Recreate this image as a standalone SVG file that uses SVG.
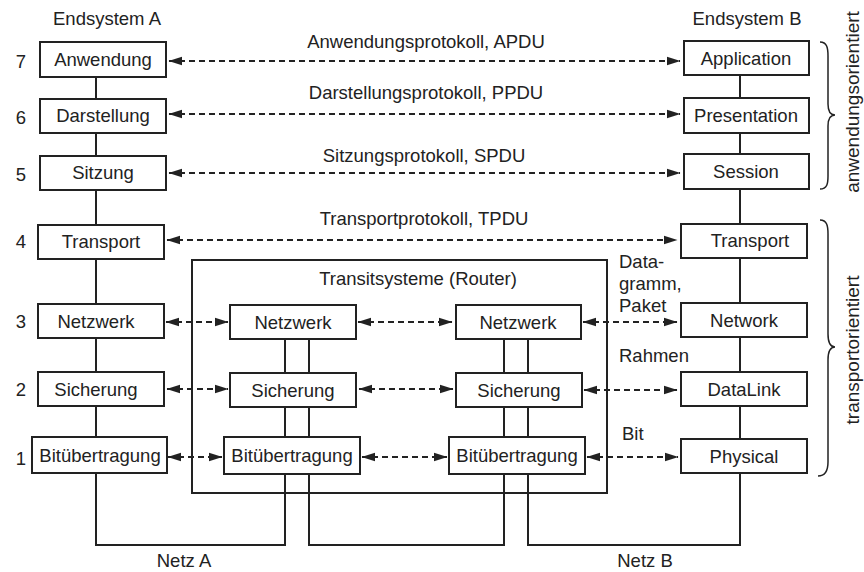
<svg xmlns="http://www.w3.org/2000/svg" width="864" height="572" viewBox="0 0 864 572">
<defs>
<marker id="ah" markerUnits="userSpaceOnUse" markerWidth="14" markerHeight="10" refX="13" refY="5" orient="auto-start-reverse" viewBox="0 0 14 10">
<path d="M0,0.8 L13.5,5 L0,9.2 Z" fill="#222"/>
</marker>
<style>
text{font-family:"Liberation Sans",Arial,sans-serif;font-size:18.5px;fill:#222}
.c{text-anchor:middle}
.v{font-size:19px}
.box{fill:#fff;stroke:#222;stroke-width:2}
.ln{fill:none;stroke:#222;stroke-width:2}
.da{fill:none;stroke:#222;stroke-width:2;stroke-dasharray:6 4;marker-start:url(#ah);marker-end:url(#ah)}
.br{fill:none;stroke:#222;stroke-width:1.5}
</style>
</defs>
<rect width="864" height="572" fill="#fff"/>

<g id="lines">
<line class="ln" x1="96" y1="77" x2="96" y2="437"/>
<line class="ln" x1="740" y1="75" x2="740" y2="439"/>
<polyline class="ln" points="96,473 96,545 285,545 285,474"/>
<polyline class="ln" points="309,474 309,545 504,545 504,474"/>
<polyline class="ln" points="528,474 528,545 740,545 740,473"/>
<line class="ln" x1="285" y1="339" x2="285" y2="437"/>
<line class="ln" x1="309" y1="339" x2="309" y2="437"/>
<line class="ln" x1="504" y1="339" x2="504" y2="437"/>
<line class="ln" x1="528" y1="339" x2="528" y2="437"/>
</g>

<g id="router-system">
<rect x="192" y="260" width="415" height="233" fill="none" stroke="#222" stroke-width="2"/>
<text class="c" x="418" y="285">Transitsysteme (Router)</text>
</g>

<g id="endsystem-a">
<text class="c" x="107" y="25">Endsystem A</text>
<g id="a7"><rect class="box" x="40" y="42" width="126" height="35"/><text class="c" x="103" y="66">Anwendung</text></g>
<g id="a6"><rect class="box" x="40" y="99" width="126" height="34"/><text class="c" x="103" y="122">Darstellung</text></g>
<g id="a5"><rect class="box" x="40" y="156" width="126" height="34"/><text class="c" x="103" y="179">Sitzung</text></g>
<g id="a4"><rect class="box" x="38" y="225" width="126" height="34"/><text class="c" x="101" y="248">Transport</text></g>
<g id="a3"><rect class="box" x="38" y="304" width="126" height="34"/><text class="c" x="96" y="328">Netzwerk</text></g>
<g id="a2"><rect class="box" x="38" y="372" width="126" height="34"/><text class="c" x="96" y="396">Sicherung</text></g>
<g id="a1"><rect class="box" x="32" y="437" width="135" height="36"/><text class="c" x="100" y="462">Bitübertragung</text></g>
</g>

<g id="layer-numbers">
<text class="c" x="21" y="68">7</text>
<text class="c" x="21" y="124">6</text>
<text class="c" x="21" y="181">5</text>
<text class="c" x="21" y="248">4</text>
<text class="c" x="21" y="328">3</text>
<text class="c" x="21" y="396">2</text>
<text class="c" x="21" y="465">1</text>
</g>

<g id="router1">
<g id="r1n"><rect class="box" x="230" y="305" width="126" height="34"/><text class="c" x="293" y="329">Netzwerk</text></g>
<g id="r1s"><rect class="box" x="230" y="373" width="126" height="34"/><text class="c" x="293" y="397">Sicherung</text></g>
<g id="r1b"><rect class="box" x="224" y="437" width="136" height="37"/><text class="c" x="292" y="462">Bitübertragung</text></g>
</g>

<g id="router2">
<g id="r2n"><rect class="box" x="456" y="305" width="125" height="34"/><text class="c" x="518" y="329">Netzwerk</text></g>
<g id="r2s"><rect class="box" x="456" y="373" width="126" height="34"/><text class="c" x="519" y="397">Sicherung</text></g>
<g id="r2b"><rect class="box" x="449" y="437" width="136" height="37"/><text class="c" x="517" y="462">Bitübertragung</text></g>
</g>

<g id="endsystem-b">
<text class="c" x="747" y="25">Endsystem B</text>
<g id="b7"><rect class="box" x="684" y="41" width="125" height="34"/><text class="c" x="746" y="65">Application</text></g>
<g id="b6"><rect class="box" x="684" y="98" width="125" height="35"/><text class="c" x="746" y="122">Presentation</text></g>
<g id="b5"><rect class="box" x="684" y="154" width="125" height="35"/><text class="c" x="746" y="178">Session</text></g>
<g id="b4"><rect class="box" x="681" y="224" width="126" height="34"/><text class="c" x="750" y="247">Transport</text></g>
<g id="b3"><rect class="box" x="681" y="303" width="126" height="34"/><text class="c" x="744" y="327">Network</text></g>
<g id="b2"><rect class="box" x="681" y="372" width="126" height="34"/><text class="c" x="744" y="396">DataLink</text></g>
<g id="b1"><rect class="box" x="681" y="439" width="126" height="34"/><text class="c" x="744" y="463">Physical</text></g>
</g>

<g id="connectors">
<line class="da" x1="169" y1="61" x2="680" y2="61"/>
<line class="da" x1="169" y1="114" x2="680" y2="114"/>
<line class="da" x1="169" y1="173" x2="680" y2="173"/>
<line class="da" x1="167" y1="240" x2="677" y2="240"/>
<line class="da" x1="166" y1="322" x2="228" y2="322"/>
<line class="da" x1="358" y1="322" x2="452" y2="322"/>
<line class="da" x1="583" y1="322" x2="677" y2="322"/>
<line class="da" x1="167" y1="389" x2="228" y2="389"/>
<line class="da" x1="359" y1="389" x2="453" y2="389"/>
<line class="da" x1="584" y1="390" x2="677" y2="390"/>
<line class="da" x1="168" y1="457" x2="222" y2="457"/>
<line class="da" x1="362" y1="457" x2="447" y2="457"/>
<line class="da" x1="587" y1="457" x2="678" y2="457"/>
</g>

<g id="labels">
<text class="c" x="426" y="48">Anwendungsprotokoll, APDU</text>
<text class="c" x="426" y="99">Darstellungsprotokoll, PPDU</text>
<text class="c" x="424" y="162">Sitzungsprotokoll, SPDU</text>
<text class="c" x="424" y="225">Transportprotokoll, TPDU</text>
<text x="619" y="268">Data-</text>
<text x="619" y="290">gramm,</text>
<text x="619" y="312">Paket</text>
<text x="619" y="362">Rahmen</text>
<text x="622" y="440">Bit</text>
<text class="c" x="184" y="567">Netz A</text>
<text class="c" x="645" y="567">Netz B</text>
</g>

<g id="braces">
<path class="br" d="M820,42 C827,42 828,48 828,56 L828,104 C828,111 830,115 835,115 C830,115 828,119 828,126 L828,176 C828,184 827,189 820,189"/>
<path class="br" d="M820,220 C827,220 828,226 828,234 L828,334 C828,342 830,347 835,347 C830,347 828,352 828,360 L828,462 C828,470 826,476 818,476"/>
<text class="c v" transform="translate(859,102) rotate(-90)">anwendungsorientiert</text>
<text class="c v" transform="translate(859,350) rotate(-90)">transportorientiert</text>
</g>
</svg>
